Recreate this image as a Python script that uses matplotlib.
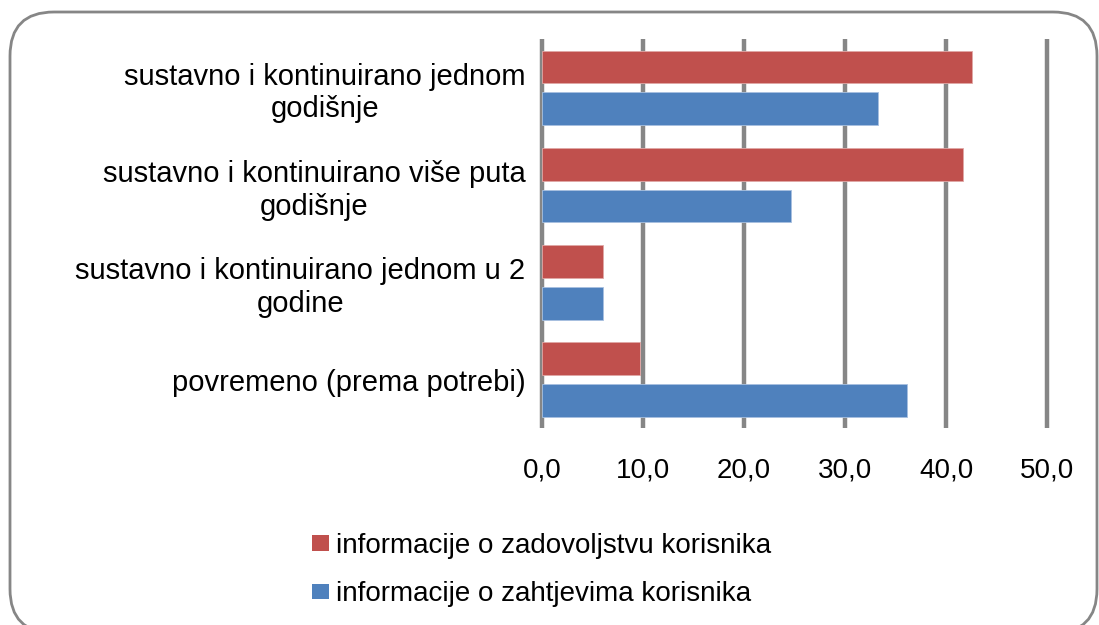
import matplotlib
matplotlib.use('Agg')
import matplotlib.pyplot as plt
import numpy as np
from matplotlib.patches import Patch, FancyBboxPatch

plt.rcParams['font.family'] = ['Liberation Sans', 'DejaVu Sans']

categories = ['sustavno i kontinuirano jednom\ngodišnje',
              'sustavno i kontinuirano više puta\ngodišnje',
              'sustavno i kontinuirano jednom u 2\ngodine',
              'povremeno (prema potrebi)']
zadovoljstvo = [42.6, 41.7, 6.0, 9.7]
zahtjevi = [33.3, 24.7, 6.0, 36.1]
series_names = ['informacije o zadovoljstvu korisnika',
                'informacije o zahtjevima korisnika']
xticks = [0, 10, 20, 30, 40, 50]
xtick_labels = ['0,0', '10,0', '20,0', '30,0', '40,0', '50,0']

red = '#C0504D'
blue = '#4F81BD'
grid_col = '#868686'

fig = plt.figure(figsize=(10.99, 6.25), dpi=100)
ax = fig.add_axes([0.4932, 0.3147, 0.4595, 0.6224])

y = np.arange(len(categories))
h = 0.336
off = 0.2145
ax.barh(y - off, zadovoljstvo, height=h, color=red, edgecolor='#e0a8a6', linewidth=0.6, zorder=3)
ax.barh(y + off, zahtjevi, height=h, color=blue, edgecolor='#a8c0e0', linewidth=0.6, zorder=3)

ax.set_xlim(0, 50)
ax.set_ylim(3.5, -0.5)
ax.set_xticks(xticks)
ax.set_xticklabels(xtick_labels)
ax.set_yticks(y)
ax.set_yticklabels(categories, multialignment='center')
ax.tick_params(axis='x', length=0, labelsize=20, pad=21)
ax.tick_params(axis='y', length=0, labelsize=21, pad=12)
for xv in xticks:
    ax.axvline(xv, color=grid_col, lw=3.2, zorder=1, solid_capstyle='butt', clip_on=False)
for s in ax.spines.values():
    s.set_visible(False)

handles = [Patch(facecolor=red, edgecolor='none'), Patch(facecolor=blue, edgecolor='none')]
fig.legend(handles, series_names, loc='upper left',
           bbox_to_anchor=(312 / 1099, 1 - 533 / 625), frameon=False,
           fontsize=20, handlelength=0.62, handleheight=0.47, handletextpad=0.25,
           labelspacing=0.8, borderpad=0, borderaxespad=0)

frame = FancyBboxPatch((10 / 1099, -8 / 625), 1087 / 1099, 1 - 12 / 625 + 8 / 625,
                       boxstyle='round,pad=0,rounding_size=0.04',
                       transform=fig.transFigure, fill=False,
                       edgecolor=grid_col, linewidth=2, mutation_aspect=1099 / 625)
fig.patches.append(frame)

fig.savefig('out.png', dpi=100)
